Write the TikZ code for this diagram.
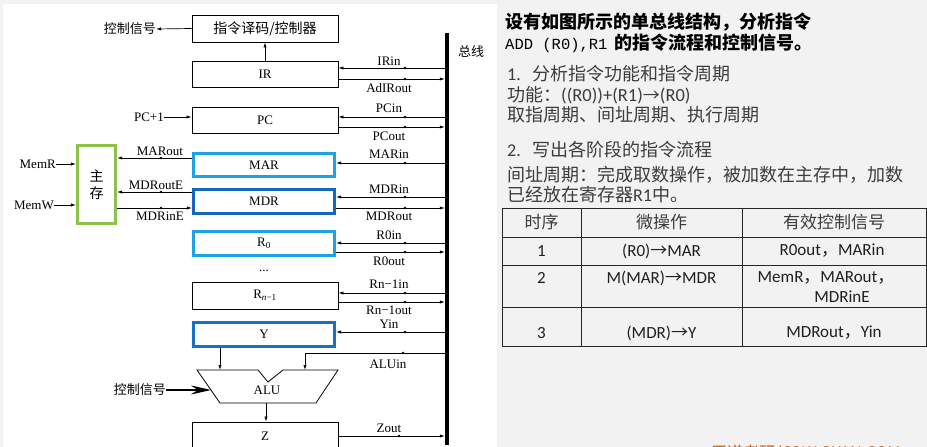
\documentclass[tikz,border=0pt]{standalone}
\usepackage{fontspec}
\setmainfont{Liberation Serif}
\newfontfamily\cjk{Noto Sans CJK SC}
\newfontfamily\latinsans{Carlito}
\newfontfamily\monofnt{Liberation Mono}
\usetikzlibrary{arrows.meta}
\definecolor{panel}{RGB}{242,242,242}
\definecolor{memgreen}{RGB}{140,194,74}
\definecolor{lightreg}{RGB}{30,162,230}
\definecolor{darkreg}{RGB}{22,102,190}
\definecolor{yreg}{RGB}{24,112,198}
\definecolor{txtgray}{RGB}{60,60,60}
\definecolor{brand}{RGB}{197,90,17}

\begin{document}
\begin{tikzpicture}[x=1pt,y=-1pt,
  reg/.style={draw, line width=0.8pt, minimum width=146pt, minimum height=26pt,
    inner sep=0pt, font=\fontsize{13}{15}\selectfont},
  hl/.style={reg, draw=#1, line width=2.6pt, minimum width=141.5pt, minimum height=23.5pt},
  lab/.style={inner sep=0pt, font=\fontsize{13}{15}\selectfont},
  sig/.style={line width=0.7pt, -{Latex[length=5pt,width=3.2pt]}},
  dot/.style={fill=black},
  txt/.style={anchor=west, inner sep=0pt, text=txtgray, font=\fontsize{18}{20}\selectfont},
  cell/.style={inner sep=0pt, text=black!88, font=\fontsize{17}{19}\selectfont},
]
\clip (0,0) rectangle (927,447);
\useasboundingbox (0,0) rectangle (927,447);

% backgrounds
\fill[panel] (0,0) rectangle (927,447);
\fill[white] (3,4) rectangle (497,447);

% ---------------- single-bus datapath ----------------
\node[fill=black, minimum width=4pt, minimum height=412pt, inner sep=0pt] (bus) at (447,239) {};
\node[lab, font=\cjk\fontsize{13}{15}\selectfont] (buslab) at (471,52) {总线};

\node[reg, font=\cjk\fontsize{14}{16}\selectfont, minimum height=27pt] (dec) at (265,28.5) {指令译码/控制器};
\node[reg] (ir) at (265,74) {IR};
\node[reg] (pc) at (265,120) {PC};
\node[hl=lightreg] (mar) at (264,165) {MAR};
\node[hl=darkreg, minimum height=24.5pt] (mdr) at (264,201.5) {MDR};
\node[hl=lightreg, minimum height=24.5pt] (r0) at (264,243.5) {R\textsubscript{0}};
\node[lab] (dots) at (264,271) {...};
\node[reg, minimum height=27pt] (rn) at (265,295.5) {R\textsubscript{\textit{n}−1}};
\node[hl=yreg, minimum height=24.5pt] (y) at (264,334.5) {Y};
\node[reg, minimum height=28pt] (z) at (265,436) {Z};

\node[draw=memgreen, line width=2.6pt, minimum width=38.5pt, minimum height=78.5pt,
  inner sep=0pt, align=center, font=\cjk\fontsize{14}{17}\selectfont] (mem) at (96.5,184.5) {主\\存};

% decoder / controller
\draw[sig] (ir.north) -- (dec.south);
\node[lab, anchor=east, font=\cjk\fontsize{13}{15}\selectfont] (ctl1) at (156,29) {控制信号};
\draw[sig] (dec.west) -- (ctl1.east);

% PC+1
\node[lab, anchor=east] (pcp) at (164,117) {PC+1};
\draw[sig] (pcp.east) -- (pc.west |- pcp.east);

% bus -> register (in) signals
\foreach \nm/\bx/\yy/\txt/\ly in {irin/ir/68/IRin/61, pcin/pc/117/PCin/108,
    marin/mar/163/MARin/154, mdrin/mdr/197/MDRin/189, r0in/r0/243/R0in/235,
    rnin/rn/293/Rn−1in/284, yin/y/332/Yin/324}{
  \coordinate (d-\nm) at (405,\yy);
  \draw[sig] (bus.west |- d-\nm) -- (\bx.east |- d-\nm);
  \fill[dot] (d-\nm) circle (1.3pt);
  \node[lab] (l-\nm) at (389,\ly) {\txt};
}

% register -> bus (out) signals
\foreach \nm/\bx/\yy/\txt/\ly/\dx in {adirout/ir/79/AdIRout/88/405, pcout/pc/127/PCout/136/405,
    mdrout/mdr/208/MDRout/216/405, r0out/r0/252/R0out/261/405,
    rnout/rn/302/Rn−1out/310/405, zout/z/436/Zout/428/399}{
  \coordinate (d-\nm) at (\dx,\yy);
  \draw[sig] (\bx.east |- d-\nm) -- (bus.west |- d-\nm);
  \fill[dot] (d-\nm) circle (1.3pt);
  \node[lab] (l-\nm) at (389,\ly) {\txt};
}

% main memory signals
\node[lab, anchor=east] (memr) at (56,164) {MemR};
\draw[sig] (memr.east) -- (mem.west |- memr.east);
\node[lab, anchor=east] (memw) at (54,205) {MemW};
\draw[sig] (memw.east) -- (mem.west |- memw.east);

\coordinate (d-marout) at (161,158);
\draw[sig] (mar.west |- d-marout) -- (mem.east |- d-marout);
\fill[dot] (d-marout) circle (1.3pt);
\node[lab] (l-marout) at (160,151) {MARout};

\coordinate (d-mdroute) at (161,192);
\draw[sig] (mdr.west |- d-mdroute) -- (mem.east |- d-mdroute);
\fill[dot] (d-mdroute) circle (1.3pt);
\node[lab] (l-mdroute) at (156,185) {MDRoutE};

\coordinate (d-mdrine) at (161,208);
\draw[sig] (mem.east |- d-mdrine) -- (mdr.west |- d-mdrine);
\fill[dot] (d-mdrine) circle (1.3pt);
\node[lab] (l-mdrine) at (160,216) {MDRinE};

% ALU
\draw[line width=0.8pt] (197,370) -- (258,370) -- (268,382) -- (283,370) -- (338,370)
  -- (316,403) -- (220,403) -- cycle;
\node[lab] (alu) at (267,390) {ALU};
\coordinate (alu-l) at (220,370);
\coordinate (alu-r) at (305,370);
\coordinate (alu-o) at (266,403);
\coordinate (alu-c) at (211,390);
\draw[sig] (y.south -| alu-l) -- (alu-l);
\coordinate (d-aluin) at (403,353);
\draw[sig] (bus.west |- d-aluin) -- (alu-r |- d-aluin) -- (alu-r);
\fill[dot] (d-aluin) circle (1.3pt);
\node[lab] (l-aluin) at (388,364) {ALUin};
\draw[sig] (alu-o) -- (alu-o |- z.north);
\node[lab, anchor=east, font=\cjk\fontsize{13}{15}\selectfont] (ctl2) at (166,390) {控制信号};
\draw[line width=2.2pt, -{Stealth[length=20pt,width=9pt,inset=7pt]}] (ctl2.east) -- (alu-c);

% ---------------- question text ----------------
\node[txt, text=black, font=\cjk\bfseries\fontsize{18}{20}\selectfont] (q1) at (505,22)
  {设有如图所示的单总线结构，分析指令};
\node[txt, text=black] (q2) at (505,43)
  {{\monofnt\fontsize{15.5}{17}\selectfont ADD (R0),R1}\hspace{7pt}{\cjk\bfseries 的指令流程和控制信号。}};
\node[txt] (s1) at (507,74) {{\latinsans 1.}\hspace{12pt}{\cjk 分析指令功能和指令周期}};
\node[txt] (s1a) at (507,95) {{\cjk 功能：}{\latinsans\fontsize{18.5}{20}\selectfont ((R0))+(R1)}{\cjk\fontsize{17}{19}\selectfont →}{\latinsans\fontsize{18.5}{20}\selectfont (R0)}};
\node[txt] (s1b) at (507,115) {\cjk 取指周期、间址周期、执行周期};
\node[txt] (s2) at (507,150) {{\latinsans 2.}\hspace{12pt}{\cjk 写出各阶段的指令流程}};
\node[txt] (s2a) at (507,175) {\cjk 间址周期：完成取数操作，被加数在主存中，加数};
\node[txt] (s2b) at (507,195) {{\cjk 已经放在寄存器}{\latinsans R1}{\cjk 中。}};

% ---------------- micro-operation table ----------------
\draw[line width=0.9pt, black!85] (502,208) rectangle (926,346);
\foreach \yy in {237,265,307} \draw[line width=0.9pt, black!85] (502,\yy) -- (926,\yy);
\foreach \xx in {581,742} \draw[line width=0.9pt, black!85] (\xx,208) -- (\xx,346);

\node[cell, font=\cjk\fontsize{17}{19}\selectfont, text=txtgray] (h1) at (541.5,222) {时序};
\node[cell, font=\cjk\fontsize{17}{19}\selectfont, text=txtgray] (h2) at (661.5,222) {微操作};
\node[cell, font=\cjk\fontsize{17}{19}\selectfont, text=txtgray] (h3) at (834,222) {有效控制信号};

\node[cell, font=\latinsans\fontsize{17}{19}\selectfont] (c11) at (541.5,251) {1};
\node[cell, font=\latinsans\fontsize{17}{19}\selectfont] (c12) at (661.5,251) {(R0){\cjk →}MAR};
\node[cell, font=\latinsans\fontsize{17}{19}\selectfont] (c13) at (832,251) {R0out{\cjk ，}MARin};

\node[cell, font=\latinsans\fontsize{17}{19}\selectfont] (c21) at (541.5,278) {2};
\node[cell, font=\latinsans\fontsize{17}{19}\selectfont] (c22) at (661.5,278) {M(MAR){\cjk →}MDR};
\node[cell, font=\latinsans\fontsize{17}{19}\selectfont] (c23) at (826,278) {MemR{\cjk ，}MARout{\cjk ，}};
\node[cell, font=\latinsans\fontsize{17}{19}\selectfont] (c23b) at (842,297) {MDRinE};

\node[cell, font=\latinsans\fontsize{17}{19}\selectfont] (c31) at (541.5,333) {3};
\node[cell, font=\latinsans\fontsize{17}{19}\selectfont] (c32) at (661.5,333) {(MDR){\cjk →}Y};
\node[cell, font=\latinsans\fontsize{17}{19}\selectfont] (c33) at (834,333) {MDRout{\cjk ，}Yin};

% footer mark
\node[inner sep=0pt, text=brand, font=\cjk\fontsize{16}{18}\selectfont] (brandmark) at (806,453)
  {王道考研/CSKAOYAN.COM};
\end{tikzpicture}
\end{document}
